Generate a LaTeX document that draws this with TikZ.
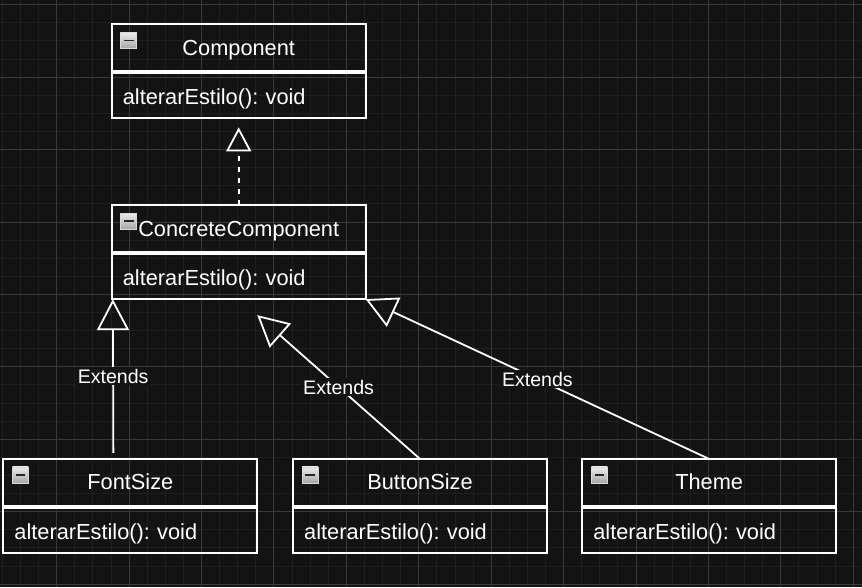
\documentclass[tikz,border=0pt]{standalone}
\usepackage{fontspec}
\setmainfont{Liberation Sans}
\usepackage{tikz}
\usetikzlibrary{positioning,arrows.meta}
\usepackage{xcolor}
\definecolor{bgdark}{HTML}{131313}
\definecolor{gridmin}{HTML}{1F1F1F}
\definecolor{gridmaj}{HTML}{3A3A3A}
\frenchspacing

\begin{document}
\begin{tikzpicture}[
  x=0.5pt, y=-0.5pt,
  font=\fontsize{10.9}{13}\selectfont, text=white,
  classhead/.style={draw=white, line width=1pt, minimum width=127pt, minimum height=23.5pt, inner sep=0pt, outer sep=0pt,
    text height=9pt, text depth=1.5pt,
    path picture={
      \coordinate (ic) at ([xshift=4.5pt,yshift=-4pt]path picture bounding box.north west);
      \shade[top color=gray!15, bottom color=gray!70, draw=gray!30, line width=0.4pt] (ic) rectangle ++(8pt,-8pt);
      \draw[black!85, line width=0.9pt] ([xshift=1.6pt,yshift=-4pt]ic) -- ++(4.8pt,0);
    }},
  classbody/.style={draw=white, line width=1pt, minimum width=127pt, minimum height=22.5pt, text width=116pt, inner xsep=5.5pt, inner ysep=0pt, outer sep=0pt, align=left,
    text height=9.5pt, text depth=0.7pt},
  ext/.style={draw=white, line width=0.9pt, -{Triangle[open, length=15.5pt, width=16pt]}},
  impl/.style={draw=white, line width=0.9pt, dash pattern=on 2.5pt off 3pt, -{Triangle[open, length=12pt, width=12.5pt]}},
  extlabel/.style={fill=bgdark, font=\fontsize{9.8}{12}\selectfont, inner sep=1pt}
]
% background and grid
\fill[bgdark] (0,0) rectangle (862,587);
\foreach \i in {0,...,47} \draw[gridmin, line width=0.5pt] ({1.9+18.125*\i},0) -- ({1.9+18.125*\i},587);
\foreach \j in {0,...,32} \draw[gridmin, line width=0.5pt] (0,{4.3+18.125*\j}) -- (862,{4.3+18.125*\j});
\foreach \i in {0,...,11} \draw[gridmaj, line width=0.5pt] ({56.3+72.5*\i},0) -- ({56.3+72.5*\i},587);
\foreach \j in {0,...,8} \draw[gridmaj, line width=0.5pt] (0,{4.3+72.5*\j}) -- (862,{4.3+72.5*\j});

% classes
\node[classhead] (comp) at (238.5,47.5) {Component};
\node[classbody, below=1pt of comp] (comp-body) {alterarEstilo(): void};
\node[classhead] (concrete) at (238.5,228.5) {ConcreteComponent};
\node[classbody, below=1pt of concrete] (concrete-body) {alterarEstilo(): void};
\node[classhead] (fontsize) at (130,482.5) {FontSize};
\node[classbody, below=1pt of fontsize] (fontsize-body) {alterarEstilo(): void};
\node[classhead] (buttonsize) at (420,482.5) {ButtonSize};
\node[classbody, below=1pt of buttonsize] (buttonsize-body) {alterarEstilo(): void};
\node[classhead] (theme) at (709.5,482.5) {Theme};
\node[classbody, below=1pt of theme] (theme-body) {alterarEstilo(): void};

% relations
\draw[impl] (concrete.north) -- ([yshift=-4.5pt]comp-body.south);
\draw[ext] ([xshift=-8.5pt,yshift=3pt]fontsize.north) -- node[extlabel] (lbl-font) {Extends} ([xshift=0.5pt]concrete-body.south west);
\draw[ext] (buttonsize.north) -- node[extlabel] (lbl-button) {Extends} ([xshift=9.25pt,yshift=-8pt]concrete-body.south);
\draw[ext] (theme.north) -- node[extlabel] (lbl-theme) {Extends} (concrete-body.south east);
\end{tikzpicture}
\end{document}
